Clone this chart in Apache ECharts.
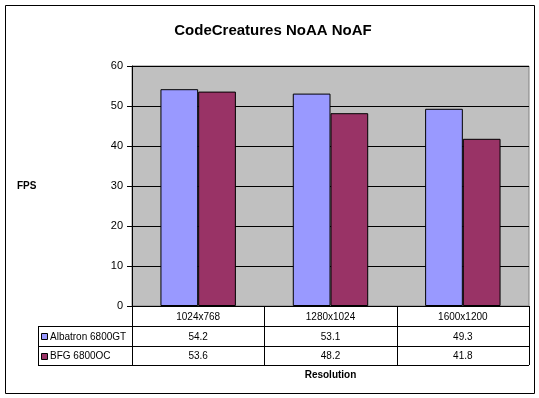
<!DOCTYPE html>
<html>
<head>
<meta charset="utf-8">
<script src="https://cdn.jsdelivr.net/npm/echarts@6/dist/echarts.min.js"></script>
<style>
  html, body { margin: 0; padding: 0; background: #fff; }
  #chart { width: 539px; height: 398px; }
</style>
</head>
<body>
<div id="chart"></div>
<script>
// data
const categories = ['1024x768', '1280x1024', '1600x1200'];
const seriesNames = ['Albatron 6800GT', 'BFG 6800OC'];
const albatron = [54.2, 53.1, 49.3];
const bfg = [53.6, 48.2, 41.8];
const colors = ['#9999FF', '#993366'];

// layout
const W = 539, H = 398;
const gridLeft = 132, gridTop = 66, gridRight = 529, gridBottom = 306;
const tableLeft = 38;
const rowY = [306, 326, 346, 365];
const font = 'Arial, "Liberation Sans", sans-serif';

const chart = echarts.init(document.getElementById('chart'), null, { renderer: 'canvas' });

// 数据表
const colW = (gridRight - gridLeft) / categories.length;
const graphic = [];
graphic.push({
  type: 'rect', shape: { x: 5.5, y: 5.5, width: 529, height: 388 },
  style: { fill: 'none', stroke: '#000', lineWidth: 1 }, z: 10
});
// horizontal lines
for (let r = 1; r < rowY.length; r++) {
  graphic.push({
    type: 'line', shape: { x1: tableLeft, y1: rowY[r] + 0.5, x2: gridRight, y2: rowY[r] + 0.5 },
    style: { stroke: '#000', lineWidth: 1 }, z: 10
  });
}
// vertical lines
graphic.push({
  type: 'line', shape: { x1: tableLeft + 0.5, y1: rowY[1], x2: tableLeft + 0.5, y2: rowY[3] },
  style: { stroke: '#000', lineWidth: 1 }, z: 10
});
for (let c = 0; c <= categories.length; c++) {
  const x = Math.round(gridLeft + c * colW) + 0.5;
  graphic.push({
    type: 'line', shape: { x1: x, y1: rowY[0], x2: x, y2: rowY[3] },
    style: { stroke: '#000', lineWidth: 1 }, z: 10
  });
}
// header + values
const rows = [albatron, bfg];
categories.forEach((cat, c) => {
  const cx = gridLeft + (c + 0.5) * colW;
  graphic.push({
    type: 'text', x: cx, y: (rowY[0] + rowY[1]) / 2 + 1,
    style: { text: cat, font: '10px ' + font, fill: '#000', align: 'center', verticalAlign: 'middle' }, z: 11
  });
  rows.forEach((vals, r) => {
    graphic.push({
      type: 'text', x: cx, y: (rowY[r + 1] + rowY[r + 2]) / 2 + 1,
      style: { text: String(vals[c]), font: '10px ' + font, fill: '#000', align: 'center', verticalAlign: 'middle' }, z: 11
    });
  });
});
// legend keys
seriesNames.forEach((name, r) => {
  const cy = (rowY[r + 1] + rowY[r + 2]) / 2;
  graphic.push({
    type: 'rect', shape: { x: tableLeft + 3.5, y: Math.round(cy - 3) + 0.5, width: 6, height: 6 },
    style: { fill: colors[r], stroke: '#000', lineWidth: 1 }, z: 11
  });
  graphic.push({
    type: 'text', x: tableLeft + 12, y: cy + 1,
    style: { text: name, font: '10px ' + font, fill: '#000', align: 'left', verticalAlign: 'middle' }, z: 11
  });
});
// axis titles
graphic.push({
  type: 'text', x: 17, y: 186,
  style: { text: 'FPS', font: 'bold 10px ' + font, fill: '#000', align: 'left', verticalAlign: 'middle' }
});
graphic.push({
  type: 'text', x: (gridLeft + gridRight) / 2, y: 375,
  style: { text: 'Resolution', font: 'bold 10px ' + font, fill: '#000', align: 'center', verticalAlign: 'middle' }
});

chart.setOption({
  animation: false,
  backgroundColor: '#fff',
  title: {
    text: 'CodeCreatures NoAA NoAF',
    left: 268, top: 18, textAlign: 'center',
    textStyle: { fontFamily: font, fontWeight: 'bold', fontSize: 15, color: '#000' }
  },
  grid: {
    left: gridLeft, top: gridTop, right: W - gridRight, bottom: H - gridBottom,
    show: true, backgroundColor: '#C0C0C0', borderColor: '#808080', borderWidth: 1
  },
  xAxis: {
    type: 'category',
    data: categories,
    axisLine: { lineStyle: { color: '#000' } },
    axisTick: { show: false },
    axisLabel: { show: false },
    splitLine: { show: false }
  },
  yAxis: {
    type: 'value',
    min: 0, max: 60, interval: 10,
    axisLine: { show: true, lineStyle: { color: '#000' } },
    axisTick: { show: true, length: 5, lineStyle: { color: '#000' } },
    axisLabel: { color: '#000', fontFamily: font, fontSize: 11, margin: 9 },
    splitLine: { show: true, lineStyle: { color: '#000', width: 1 } }
  },
  series: [
    {
      name: seriesNames[0], type: 'bar', data: albatron,
      barGap: '0%', barCategoryGap: '43%',
      itemStyle: { color: colors[0], borderColor: '#000', borderWidth: 1 }
    },
    {
      name: seriesNames[1], type: 'bar', data: bfg,
      barGap: '0%', barCategoryGap: '43%',
      itemStyle: { color: colors[1], borderColor: '#000', borderWidth: 1 }
    }
  ],
  graphic: graphic
});
</script>
</body>
</html>
